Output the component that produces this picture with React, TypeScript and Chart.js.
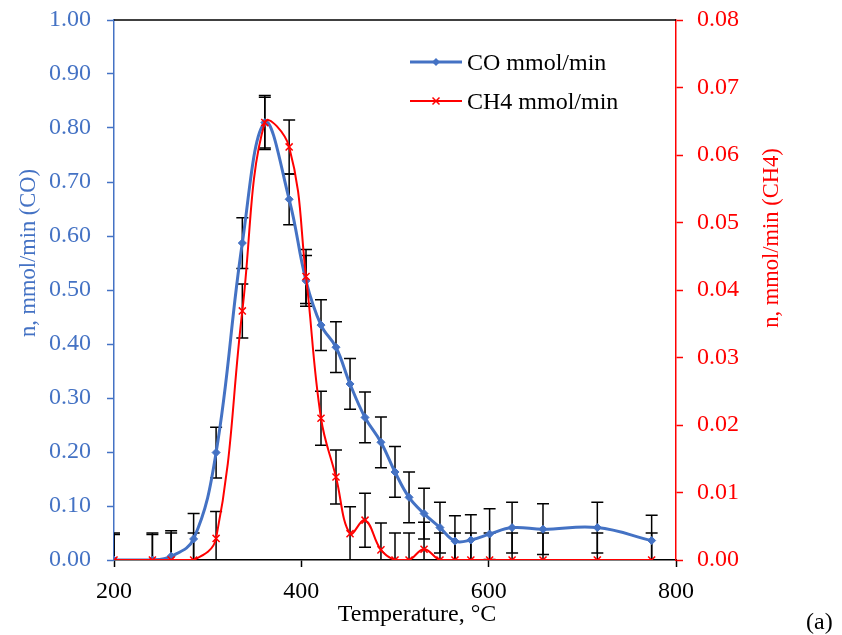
import React, { useEffect, useRef } from "react";
import { Chart, registerables } from "chart.js";

Chart.register(...registerables);

// ---- data ----
const temperatures = [200, 241, 261, 285, 309, 337, 361, 387, 405, 421, 437, 452, 468, 485, 500, 515, 531, 548, 564, 581, 601, 625, 658, 716, 774];
const coValues = [0, 0, 0.007, 0.039, 0.199, 0.587, 0.81, 0.668, 0.517, 0.435, 0.394, 0.326, 0.264, 0.218, 0.163, 0.116, 0.086, 0.06, 0.035, 0.037, 0.048, 0.06, 0.057, 0.06, 0.036];
const ch4Values = [0, 0, 0, 0, 0.0032, 0.0369, 0.0648, 0.0612, 0.042, 0.021, 0.0123, 0.0039, 0.0059, 0.0015, 0, 0, 0.0016, 0, 0, 0, 0, 0, 0, 0, 0];
const coErrors = [0.047, 0.047, 0.047, 0.047, 0.047, 0.047, 0.047, 0.047, 0.047, 0.047, 0.047, 0.047, 0.047, 0.047, 0.047, 0.047, 0.047, 0.047, 0.047, 0.047, 0.047, 0.047, 0.047, 0.047, 0.047];
const ch4Errors = [0.004, 0.004, 0.004, 0.004, 0.004, 0.004, 0.004, 0.004, 0.004, 0.004, 0.004, 0.004, 0.004, 0.004, 0.004, 0.004, 0.004, 0.004, 0.004, 0.004, 0.004, 0.004, 0.004, 0.004, 0.004];
const seriesLabels = ["CO mmol/min", "CH4 mmol/min"];
const xTitle = "Temperature, \u00B0C";
const yLeftTitle = "n, mmol/min (CO)";
const yRightTitle = "n, mmol/min (CH4)";
const panelLabel = "(a)";

const BLUE = "#4472C4";
const RED = "#FF0000";
const FONT = "'Liberation Serif', 'Times New Roman', serif";
const FONT_SIZE = 24;
const V_TITLE_SIZE = 22.5;

const errorSets = [coErrors, ch4Errors];

const errorBarPlugin = {
  id: "errorBars",
  beforeDatasetsDraw(chart: any) {
    const { ctx, chartArea } = chart;
    ctx.save();
    ctx.beginPath();
    ctx.rect(chartArea.left, chartArea.top, chartArea.right - chartArea.left, chartArea.bottom - chartArea.top);
    ctx.clip();
    ctx.strokeStyle = "#000000";
    ctx.lineWidth = 1.5;
    chart.data.datasets.forEach((ds: any, di: number) => {
      const errs = errorSets[di];
      const meta = chart.getDatasetMeta(di);
      const yScale = chart.scales[meta.yAxisID];
      const xScale = chart.scales[meta.xAxisID];
      ds.data.forEach((p: any, i: number) => {
        const x = xScale.getPixelForValue(p.x);
        const yTop = yScale.getPixelForValue(p.y + errs[i]);
        const yBot = yScale.getPixelForValue(p.y - errs[i]);
        const cap = 6;
        ctx.beginPath();
        ctx.moveTo(x, yTop);
        ctx.lineTo(x, yBot);
        ctx.moveTo(x - cap, yTop);
        ctx.lineTo(x + cap, yTop);
        ctx.moveTo(x - cap, yBot);
        ctx.lineTo(x + cap, yBot);
        ctx.stroke();
      });
    });
    ctx.restore();
  },
};

function drawDiamond(ctx: CanvasRenderingContext2D, x: number, y: number, r: number, color: string) {
  ctx.beginPath();
  ctx.moveTo(x, y - r);
  ctx.lineTo(x + r, y);
  ctx.lineTo(x, y + r);
  ctx.lineTo(x - r, y);
  ctx.closePath();
  ctx.fillStyle = color;
  ctx.fill();
}

function drawCross(ctx: CanvasRenderingContext2D, x: number, y: number, r: number, color: string) {
  ctx.beginPath();
  ctx.moveTo(x - r, y - r);
  ctx.lineTo(x + r, y + r);
  ctx.moveTo(x + r, y - r);
  ctx.lineTo(x - r, y + r);
  ctx.strokeStyle = color;
  ctx.lineWidth = 1.5;
  ctx.stroke();
}

const decorPlugin = {
  id: "decor",
  afterDraw(chart: any) {
    const { ctx, chartArea } = chart;
    ctx.save();
    // top frame line
    ctx.strokeStyle = "#000000";
    ctx.lineWidth = 1.5;
    ctx.beginPath();
    ctx.moveTo(chartArea.left, chartArea.top);
    ctx.lineTo(chartArea.right, chartArea.top);
    ctx.stroke();

    // left axis title
    ctx.font = `${V_TITLE_SIZE}px ${FONT}`;
    ctx.save();
    ctx.translate(29, 253);
    ctx.rotate(-Math.PI / 2);
    ctx.fillStyle = BLUE;
    ctx.textAlign = "center";
    ctx.textBaseline = "middle";
    ctx.fillText(yLeftTitle, 0, 0);
    ctx.restore();
    // right axis title
    ctx.save();
    ctx.translate(772, 238);
    ctx.rotate(-Math.PI / 2);
    ctx.fillStyle = RED;
    ctx.textAlign = "center";
    ctx.textBaseline = "middle";
    ctx.fillText(yRightTitle, 0, 0);
    ctx.restore();

    ctx.font = `${FONT_SIZE}px ${FONT}`;
    // x title
    ctx.fillStyle = "#000000";
    ctx.textAlign = "center";
    ctx.textBaseline = "alphabetic";
    ctx.fillText(xTitle, 417, 621);
    // panel label
    ctx.textAlign = "left";
    ctx.fillText(panelLabel, 806, 629);

    // legend
    const lx0 = 410, lx1 = 462, tx = 467;
    const rows = [62, 101];
    ctx.strokeStyle = BLUE;
    ctx.lineWidth = 3;
    ctx.beginPath();
    ctx.moveTo(lx0, rows[0]);
    ctx.lineTo(lx1, rows[0]);
    ctx.stroke();
    drawDiamond(ctx, (lx0 + lx1) / 2, rows[0], 4, BLUE);
    ctx.strokeStyle = RED;
    ctx.lineWidth = 2;
    ctx.beginPath();
    ctx.moveTo(lx0, rows[1]);
    ctx.lineTo(lx1, rows[1]);
    ctx.stroke();
    drawCross(ctx, (lx0 + lx1) / 2, rows[1], 3.5, RED);
    ctx.fillStyle = "#000000";
    ctx.textAlign = "left";
    ctx.textBaseline = "alphabetic";
    ctx.fillText(seriesLabels[0], tx, rows[0] + 8);
    ctx.fillText(seriesLabels[1], tx, rows[1] + 8);
    ctx.restore();
  },
};

const fixVertical = (w: number) => (s: any) => {
  s.width = w;
  s.paddingTop = 0;
  s.paddingBottom = 0;
};

export default function App() {
  const canvasRef = useRef<HTMLCanvasElement | null>(null);

  useEffect(() => {
    if (!canvasRef.current) return;
    const chart = new Chart(canvasRef.current, {
      type: "line",
      data: {
        datasets: [
          {
            label: seriesLabels[0],
            data: temperatures.map((t, i) => ({ x: t, y: coValues[i] })),
            yAxisID: "y",
            xAxisID: "x",
            borderColor: BLUE,
            backgroundColor: BLUE,
            borderWidth: 3,
            pointStyle: "rectRot",
            pointRadius: 4,
            pointBorderWidth: 1,
            pointBackgroundColor: BLUE,
            pointBorderColor: BLUE,
            tension: 0.4,
            fill: false,
            order: 2,
          },
          {
            label: seriesLabels[1],
            data: temperatures.map((t, i) => ({ x: t, y: ch4Values[i] })),
            yAxisID: "y1",
            xAxisID: "x",
            borderColor: RED,
            backgroundColor: RED,
            borderWidth: 2,
            pointStyle: "crossRot",
            pointRadius: 5,
            pointBorderWidth: 1.5,
            pointBorderColor: RED,
            tension: 0.4,
            fill: false,
            order: 1,
          },
        ],
      },
      options: {
        responsive: false,
        animation: false,
        devicePixelRatio: 1,
        layout: { padding: { top: 20, left: 0, right: 0, bottom: 0 } },
        plugins: {
          legend: { display: false },
          tooltip: { enabled: false },
        },
        scales: {
          x: {
            type: "linear",
            position: "bottom",
            min: 200,
            max: 800,
            afterFit: (s: any) => {
              s.height = 75;
              s.paddingLeft = 0;
              s.paddingRight = 0;
            },
            ticks: {
              stepSize: 200,
              color: "#000000",
              padding: 10,
              font: { family: FONT, size: FONT_SIZE },
              maxRotation: 0,
            },
            grid: { drawOnChartArea: false, drawTicks: true, tickLength: 7, tickColor: "#000000", tickWidth: 1.5 },
            border: { display: true, color: "#000000", width: 1.5 },
          },
          y: {
            type: "linear",
            position: "left",
            min: 0,
            max: 1,
            afterFit: fixVertical(114),
            ticks: {
              stepSize: 0.1,
              color: BLUE,
              padding: 16,
              font: { family: FONT, size: FONT_SIZE },
              callback: (v: any) => Number(v).toFixed(2),
            },
            grid: { drawOnChartArea: false, drawTicks: true, tickLength: 7, tickColor: BLUE, tickWidth: 1.5 },
            border: { display: true, color: BLUE, width: 1.5 },
          },
          y1: {
            type: "linear",
            position: "right",
            min: 0,
            max: 0.08,
            afterFit: fixVertical(166),
            ticks: {
              stepSize: 0.01,
              color: RED,
              padding: 14,
              font: { family: FONT, size: FONT_SIZE },
              callback: (v: any) => Number(v).toFixed(2),
            },
            grid: { drawOnChartArea: false, drawTicks: true, tickLength: 7, tickColor: RED, tickWidth: 1.5 },
            border: { display: true, color: RED, width: 1.5 },
          },
        },
      },
      plugins: [errorBarPlugin, decorPlugin],
    } as any);
    return () => chart.destroy();
  }, []);

  return (
    <div style={{ position: "fixed", left: 0, top: 0, width: 842, height: 635, background: "#ffffff" }}>
      <canvas ref={canvasRef} width={842} height={635} style={{ display: "block" }} />
    </div>
  );
}
